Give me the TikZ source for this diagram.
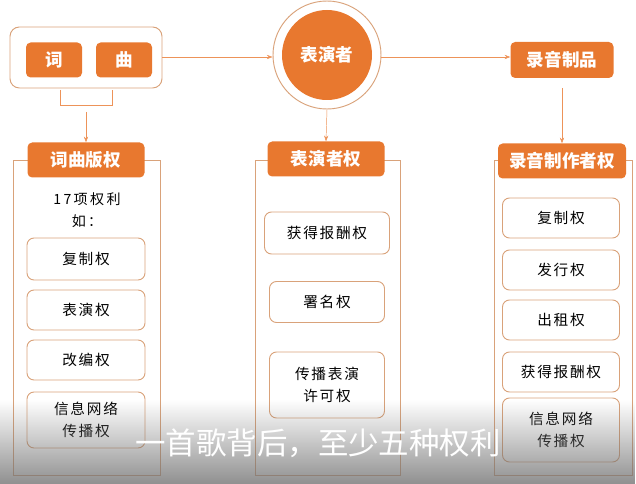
\documentclass[tikz,border=0pt]{standalone}
\usepackage{fontspec}
\setmainfont{Noto Sans CJK SC}
\newfontfamily\spaced[LetterSpace=12]{Noto Sans CJK SC}
\usetikzlibrary{positioning}
\usetikzlibrary{arrows.meta}
\usetikzlibrary{fadings}
\definecolor{orng}{HTML}{E8782F}
\definecolor{edge}{HTML}{D9A27A}

\begin{document}
\begin{tikzpicture}[
  x=0.03cm, y=-0.03cm,
  head/.style = {fill=orng, rounded corners=4pt, text=white, font=\bfseries\fontsize{15}{17}\selectfont,
                 minimum height=35*0.03cm, inner sep=0pt},
  item/.style = {draw=edge, thick, fill=white, rounded corners=6pt, font=\spaced\fontsize{12.5}{19}\selectfont,
                 align=center, inner sep=0pt},
  frame/.style = {draw=edge},
  line/.style = {draw=orng!80, thin},
  >={Stealth[scale=1.0]}
]
  \useasboundingbox (0,0) rectangle (636,484);

  % top row
  \draw[frame, rounded corners=8pt, thick] (10,27) rectangle (162,88);
  \node[head, minimum width=56*0.03cm] (ci) at (54,60) {词};
  \node[head, minimum width=56*0.03cm] (qu) at (124,60) {曲};
  \coordinate (cq) at (162,57);

  \node[circle, draw=edge, thick, minimum size=108*0.03cm] (ring) at (327,55) {};
  \node[circle, fill=orng, minimum size=90*0.03cm, text=white,
        font=\bfseries\fontsize{15}{17}\selectfont] (perf) at (327,55) {表演者};

  \node[head, minimum width=103*0.03cm, minimum height=36*0.03cm] (rec) at (562,60) {录音制品};

  \draw[line,->] (cq) -- (ring.west |- cq);
  \draw[line,->] (ring.east |- cq) -- (rec.west |- cq);

  % columns
  \draw[frame] (13,160) rectangle (160,475);
  \draw[frame] (255,160) rectangle (400,475);
  \draw[frame] (494,160) rectangle (632,475);

  \node[head, minimum width=117*0.03cm] (h1) at (86,160) {词曲版权};
  \node[head, minimum width=117*0.03cm] (h2) at (326,159) {表演者权};
  \node[head, minimum width=128*0.03cm] (h3) at (562,161) {录音制作者权};

  % connectors
  \draw[line] (60,90) -- (60,105) -- (112,105) -- (112,90);
  \coordinate (br) at (86,112);
  \draw[line,->] (br) -- (h1.north);
  \draw[line,->] (ring.south) -- (h2.north);
  \draw[line,->] (rec.south |- 0,88) -- (h3.north);

  % column 1
  \node[font=\spaced\fontsize{12}{19}\selectfont, align=center] (n17) at (87,210) {1\,7\,项\,权\,利\\如\,：};
  \node[item, minimum width=118*0.03cm, minimum height=42*0.03cm] (a1) at (86,259) {复制权};
  \node[item, minimum width=118*0.03cm, minimum height=40*0.03cm] (a2) at (86,310) {表演权};
  \node[item, minimum width=118*0.03cm, minimum height=40*0.03cm] (a3) at (86,360) {改编权};
  \node[item, minimum width=118*0.03cm, minimum height=56*0.03cm] (a4) at (86,420) {信息网络\\传播权};

  % column 2
  \node[item, minimum width=125*0.03cm, minimum height=42*0.03cm] (b1) at (327,233) {获得报酬权};
  \node[item, minimum width=115*0.03cm, minimum height=41*0.03cm] (b2) at (327,302) {署名权};
  \node[item, minimum width=115*0.03cm, minimum height=66*0.03cm] (b3) at (327,385) {传播表演\\许可权};

  % column 3
  \node[item, minimum width=117*0.03cm, minimum height=40*0.03cm] (c1) at (561,218) {复制权};
  \node[item, minimum width=117*0.03cm, minimum height=40*0.03cm] (c2) at (561,270) {发行权};
  \node[item, minimum width=117*0.03cm, minimum height=40*0.03cm] (c3) at (561,320) {出租权};
  \node[item, minimum width=117*0.03cm, minimum height=40*0.03cm] (c4) at (561,372) {获得报酬权};
  \node[item, minimum width=117*0.03cm, minimum height=64*0.03cm] (c5) at (561,430) {信息网络\\传播权};

  % caption overlay
  \fill[black!55, path fading=north, opacity=0.8] (0,400) rectangle (636,484);
  \node[text=white, font=\fontsize{26}{28}\selectfont] (cap) at (318,443) {一首歌背后，至少五种权利};
\end{tikzpicture}
\end{document}
